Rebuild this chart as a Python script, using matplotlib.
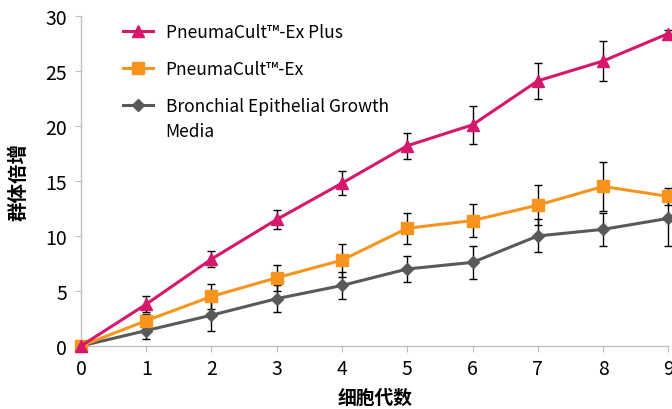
import matplotlib.pyplot as plt

plt.rcParams['font.family'] = ['Noto Sans CJK SC', 'DejaVu Sans']

passages = [0, 1, 2, 3, 4, 5, 6, 7, 8, 9]
plus_mean = [0, 3.8, 7.9, 11.5, 14.8, 18.2, 20.1, 24.1, 25.9, 28.4]
plus_err = [0, 0.7, 0.75, 0.85, 1.1, 1.2, 1.7, 1.65, 1.8, 0.3]
ex_mean = [0, 2.3, 4.5, 6.2, 7.8, 10.7, 11.4, 12.8, 14.5, 13.6]
ex_err = [0, 0.6, 1.1, 1.2, 1.5, 1.4, 1.5, 1.8, 2.2, 0.8]
begm_mean = [0, 1.4, 2.8, 4.3, 5.5, 7.0, 7.6, 10.0, 10.6, 11.6]
begm_err = [0, 0.8, 1.4, 1.2, 1.2, 1.15, 1.5, 1.5, 1.5, 2.5]

labels = ["PneumaCult™-Ex Plus", "PneumaCult™-Ex", "Bronchial Epithelial Growth"]
label_tail = "Media"  # second line of the third legend entry

fig = plt.figure(figsize=(6.72, 4.10), dpi=100)
ax = fig.add_axes([0.1205, 0.1537, 0.874, 0.805])

series = [
    (begm_mean, begm_err, '#58595b', 'D', 6, labels[2]),
    (ex_mean, ex_err, '#f7941d', 's', 8, labels[1]),
    (plus_mean, plus_err, '#d6176b', '^', 9, labels[0]),
]
handles = {}
for mean, err, color, marker, ms, lab in series:
    ax.errorbar(passages, mean, yerr=err, fmt='none', ecolor='black',
                elinewidth=1, capsize=3, capthick=1, zorder=2, clip_on=False)
    h, = ax.plot(passages, mean, color=color, lw=2.2, marker=marker,
                 markersize=ms, label=lab, zorder=3, clip_on=False)
    handles[lab] = h

ax.set_xlim(0, 9)
ax.set_ylim(0, 30)
ax.set_xticks(passages)
ax.set_yticks(range(0, 31, 5))
for s in ['top', 'right']:
    ax.spines[s].set_visible(False)
for s in ['left', 'bottom']:
    ax.spines[s].set_color('#bfbfbf')
    ax.spines[s].set_linewidth(1)
ax.tick_params(axis='both', colors='#bfbfbf', labelcolor='black',
               labelsize=14, length=4)
ax.tick_params(axis='x', pad=5)
ax.tick_params(axis='y', pad=6)

ax.set_xlabel("细胞代数", fontsize=13.5, fontweight='bold', labelpad=6)
ax.set_ylabel("群体倍增", fontsize=14, fontweight='bold', labelpad=12)

leg = ax.legend([handles[l] for l in labels], labels, loc='upper left',
                bbox_to_anchor=(0.045, 1.027), frameon=False, fontsize=12.5,
                handlelength=1.7, labelspacing=1.1, handletextpad=0.75)

# second line of the last legend label, placed under its first line
fig.canvas.draw()
bb = leg.get_texts()[2].get_window_extent()
fig.text(bb.x0 / fig.dpi / fig.get_figwidth(),
         (bb.y0 - 25) / fig.dpi / fig.get_figheight(),
         label_tail, fontsize=12.5, ha='left', va='bottom')

fig.savefig("out.png", dpi=100)
